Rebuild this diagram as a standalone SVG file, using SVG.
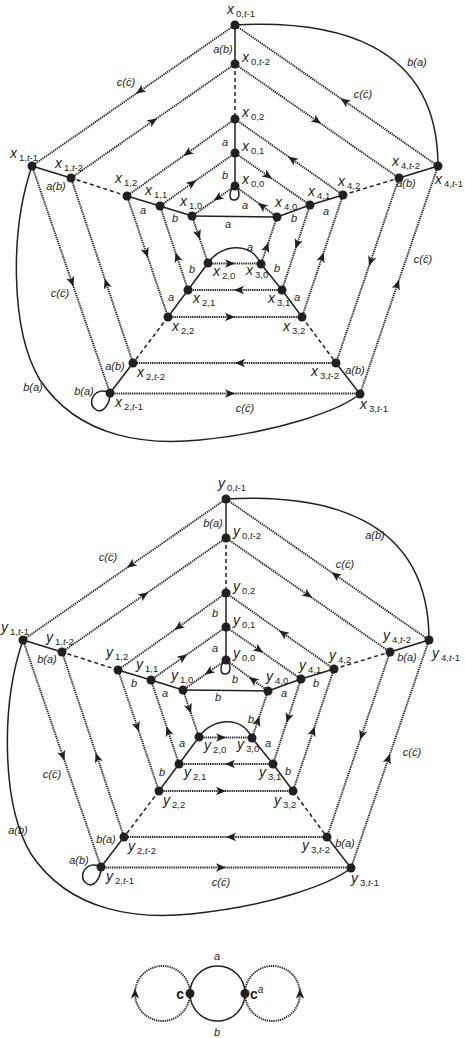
<svg xmlns="http://www.w3.org/2000/svg" width="465" height="1038" viewBox="0 0 465 1038">
<style>
.sol{fill:none;stroke:#231f20;stroke-width:1.5}
.dot{fill:none;stroke:#231f20;stroke-width:1.9;stroke-dasharray:1.3 0.9}
.dash{fill:none;stroke:#231f20;stroke-width:1.5;stroke-dasharray:4 3}
.arr{marker-mid:url(#ah)}
.nd{fill:#231f20}
.nl{font-family:"Liberation Sans",Arial,sans-serif;font-size:14px;font-style:italic;fill:#231f20}
.s{font-size:9.5px;font-style:normal}
.i{font-style:italic}
.el{font-family:"Liberation Sans",Arial,sans-serif;font-size:11px;font-style:italic;text-anchor:middle;fill:#231f20}
.cb{font-family:"Liberation Sans",Arial,sans-serif;font-size:14px;font-weight:bold;fill:#231f20}
</style>
<defs>
<marker id="ah" viewBox="-6 -5 12 10" markerWidth="12" markerHeight="10" markerUnits="userSpaceOnUse" orient="auto" refX="0" refY="0">
<path d="M-5,-4.2 L5,0 L-5,4.2 L-2.5,0 Z" fill="#231f20"/>
</marker>
</defs>

<!-- ===== Diagram X ===== -->
<g id="diagram-x">
<g id="connectors-x">
<path class="sol" d="M235,25 L235,64"/>
<path class="dash" d="M235,64 L235,119"/>
<path class="sol" d="M235,119 L235,153 L235,186"/>
<path class="sol" d="M235,186 C228,191 229,200 234,200 C240,200 241,191 235,186"/>
<path class="sol" d="M192,216 L277,217"/>
<path class="sol" d="M192,216 L160,206 L127,196"/>
<path class="dash" d="M127,196 L71,178"/>
<path class="sol" d="M71,178 L32,166"/>
<path class="sol" d="M277,217 L310,205 L343,195"/>
<path class="dash" d="M343,195 L399,178"/>
<path class="sol" d="M399,178 L438,166"/>
<path class="sol" d="M208,263 L188,290 L168,317"/>
<path class="dash" d="M168,317 L133,363"/>
<path class="sol" d="M133,363 L110,393"/>
<path class="sol" d="M110,393 C96,385 86,402 95,409 C102,415 110,405 110,393"/>
<path class="sol" d="M261,264 L282,290 L302,317"/>
<path class="dash" d="M302,317 L336,363"/>
<path class="sol" d="M336,363 L360,394"/>
<path class="sol" d="M208,263 C220,245 250,240 261,264"/>
<path class="sol" d="M235,25 C330,20 438,40 438,166"/>
<path class="sol" d="M32,166 C10,230 10,330 40,380 C80,440 150,445 200,440 C280,432 340,410 360,394"/>
<path class="dot arr" d="M235,25 L140,91 L32,166"/>
<path class="dot arr" d="M71,178 L153,121 L235,64"/>
<path class="dot arr" d="M235,119 L187.5,153 L127,196"/>
<path class="dot arr" d="M160,206 L192.2,183.2 L235,153"/>
<path class="dot arr" d="M235,186 L217.8,198 L192,216"/>
<path class="dot arr" d="M438,166 L344.6,101.1 L235,25"/>
<path class="dot arr" d="M235,64 L317,121 L399,178"/>
<path class="dot arr" d="M343,195 L292.2,159.3 L235,119"/>
<path class="dot arr" d="M235,153 L268,175.9 L310,205"/>
<path class="dot arr" d="M277,217 L261.9,205.8 L235,186"/>
<path class="dot arr" d="M192,216 L198.4,234.8 L208,263"/>
<path class="dot arr" d="M188,290 L177.1,257.2 L160,206"/>
<path class="dot arr" d="M127,196 L146.3,252.9 L168,317"/>
<path class="dot arr" d="M133,363 L106.3,283.5 L71,178"/>
<path class="dot arr" d="M32,166 L71.8,281.8 L110,393"/>
<path class="dot arr" d="M261,264 L266.8,247.1 L277,217"/>
<path class="dot arr" d="M310,205 L297.1,244.1 L282,290"/>
<path class="dot arr" d="M302,317 L322.1,257.2 L343,195"/>
<path class="dot arr" d="M399,178 L370.65,261.25 L336,363"/>
<path class="dot arr" d="M360,394 L397.4,284.6 L438,166"/>
<path class="dot arr" d="M208,263.5 L230,263.5 L261,263.5"/>
<path class="dot arr" d="M282,290 L239,290 L188,290"/>
<path class="dot arr" d="M168,317 L230,317 L302,317"/>
<path class="dot arr" d="M336,363 L240,363 L133,363"/>
<path class="dot arr" d="M110,393.5 L230,393.5 L360,393.5"/>
</g>
<g id="edge-labels-x">
<text class="el" x="223" y="53">a(b)</text>
<text class="el" x="126" y="86">c(c&#x304;)</text>
<text class="el" x="417" y="66">b(a)</text>
<text class="el" x="363" y="98">c(c&#x304;)</text>
<text class="el" x="225" y="146">a</text>
<text class="el" x="225" y="179">b</text>
<text class="el" x="245" y="209">a</text>
<text class="el" x="228" y="228">a</text>
<text class="el" x="143" y="214">a</text>
<text class="el" x="175" y="222">b</text>
<text class="el" x="56" y="190">a(b)</text>
<text class="el" x="326" y="215">a</text>
<text class="el" x="294" y="222">b</text>
<text class="el" x="406" y="187">a(b)</text>
<text class="el" x="250" y="251">a</text>
<text class="el" x="192" y="273">b</text>
<text class="el" x="171" y="301">a</text>
<text class="el" x="115" y="370">a(b)</text>
<text class="el" x="84" y="395">b(a)</text>
<text class="el" x="33" y="391">b(a)</text>
<text class="el" x="60" y="297">c(c&#x304;)</text>
<text class="el" x="277" y="272">b</text>
<text class="el" x="297" y="301">a</text>
<text class="el" x="355" y="374">a(b)</text>
<text class="el" x="423" y="263">c(c&#x304;)</text>
<text class="el" x="245" y="412">c(c&#x304;)</text>
</g>
<g id="x0_t-1"><circle class="nd" cx="235" cy="25" r="4.5"/><text class="nl" x="227" y="14">x<tspan class="s" dx="2" dy="3">0,</tspan><tspan class="s i">t</tspan><tspan class="s">-1</tspan></text></g>
<g id="x0_t-2"><circle class="nd" cx="235" cy="64" r="4.5"/><text class="nl" x="242" y="62">x<tspan class="s" dx="2" dy="3">0,</tspan><tspan class="s i">t</tspan><tspan class="s">-2</tspan></text></g>
<g id="x0_2"><circle class="nd" cx="235" cy="119" r="4.5"/><text class="nl" x="242" y="117">x<tspan class="s" dx="2" dy="3">0,2</tspan></text></g>
<g id="x0_1"><circle class="nd" cx="235" cy="153" r="4.5"/><text class="nl" x="242" y="151">x<tspan class="s" dx="2" dy="3">0,1</tspan></text></g>
<g id="x0_0"><circle class="nd" cx="235" cy="186" r="4.5"/><text class="nl" x="242" y="184">x<tspan class="s" dx="2" dy="3">0,0</tspan></text></g>
<g id="x4_0"><circle class="nd" cx="277" cy="217" r="4.5"/><text class="nl" x="275" y="207">x<tspan class="s" dx="2" dy="3">4,0</tspan></text></g>
<g id="x4_1"><circle class="nd" cx="310" cy="205" r="4.5"/><text class="nl" x="308" y="196">x<tspan class="s" dx="2" dy="3">4,1</tspan></text></g>
<g id="x4_2"><circle class="nd" cx="343" cy="195" r="4.5"/><text class="nl" x="338" y="186">x<tspan class="s" dx="2" dy="3">4,2</tspan></text></g>
<g id="x4_t-2"><circle class="nd" cx="399" cy="178" r="4.5"/><text class="nl" x="392" y="166">x<tspan class="s" dx="2" dy="3">4,</tspan><tspan class="s i">t</tspan><tspan class="s">-2</tspan></text></g>
<g id="x4_t-1"><circle class="nd" cx="438" cy="166" r="4.5"/><text class="nl" x="435" y="184">x<tspan class="s" dx="2" dy="3">4,</tspan><tspan class="s i">t</tspan><tspan class="s">-1</tspan></text></g>
<g id="x1_t-1"><circle class="nd" cx="32" cy="166" r="4.5"/><text class="nl" x="10" y="158">x<tspan class="s" dx="2" dy="3">1,</tspan><tspan class="s i">t</tspan><tspan class="s">-1</tspan></text></g>
<g id="x1_t-2"><circle class="nd" cx="71" cy="178" r="4.5"/><text class="nl" x="55" y="168">x<tspan class="s" dx="2" dy="3">1,</tspan><tspan class="s i">t</tspan><tspan class="s">-2</tspan></text></g>
<g id="x1_2"><circle class="nd" cx="127" cy="196" r="4.5"/><text class="nl" x="115" y="183">x<tspan class="s" dx="2" dy="3">1,2</tspan></text></g>
<g id="x1_1"><circle class="nd" cx="160" cy="206" r="4.5"/><text class="nl" x="145" y="195">x<tspan class="s" dx="2" dy="3">1,1</tspan></text></g>
<g id="x1_0"><circle class="nd" cx="192" cy="216" r="4.5"/><text class="nl" x="180" y="206">x<tspan class="s" dx="2" dy="3">1,0</tspan></text></g>
<g id="x2_0"><circle class="nd" cx="208" cy="263" r="4.5"/><text class="nl" x="213" y="276">x<tspan class="s" dx="2" dy="3">2,0</tspan></text></g>
<g id="x2_1"><circle class="nd" cx="188" cy="290" r="4.5"/><text class="nl" x="193" y="303">x<tspan class="s" dx="2" dy="3">2,1</tspan></text></g>
<g id="x2_2"><circle class="nd" cx="168" cy="317" r="4.5"/><text class="nl" x="172" y="331">x<tspan class="s" dx="2" dy="3">2,2</tspan></text></g>
<g id="x2_t-2"><circle class="nd" cx="133" cy="363" r="4.5"/><text class="nl" x="137" y="377">x<tspan class="s" dx="2" dy="3">2,</tspan><tspan class="s i">t</tspan><tspan class="s">-2</tspan></text></g>
<g id="x2_t-1"><circle class="nd" cx="110" cy="393" r="4.5"/><text class="nl" x="115" y="407">x<tspan class="s" dx="2" dy="3">2,</tspan><tspan class="s i">t</tspan><tspan class="s">-1</tspan></text></g>
<g id="x3_0"><circle class="nd" cx="261" cy="264" r="4.5"/><text class="nl" x="246" y="275">x<tspan class="s" dx="2" dy="3">3,0</tspan></text></g>
<g id="x3_1"><circle class="nd" cx="282" cy="290" r="4.5"/><text class="nl" x="268" y="303">x<tspan class="s" dx="2" dy="3">3,1</tspan></text></g>
<g id="x3_2"><circle class="nd" cx="302" cy="317" r="4.5"/><text class="nl" x="283" y="331">x<tspan class="s" dx="2" dy="3">3,2</tspan></text></g>
<g id="x3_t-2"><circle class="nd" cx="336" cy="363" r="4.5"/><text class="nl" x="311" y="376">x<tspan class="s" dx="2" dy="3">3,</tspan><tspan class="s i">t</tspan><tspan class="s">-2</tspan></text></g>
<g id="x3_t-1"><circle class="nd" cx="360" cy="394" r="4.5"/><text class="nl" x="360" y="409">x<tspan class="s" dx="2" dy="3">3,</tspan><tspan class="s i">t</tspan><tspan class="s">-1</tspan></text></g>
</g>

<!-- ===== Diagram Y ===== -->
<g id="diagram-y" transform="translate(-9,474)">
<g id="connectors-y">
<path class="sol" d="M235,25 L235,64"/>
<path class="dash" d="M235,64 L235,119"/>
<path class="sol" d="M235,119 L235,153 L235,186"/>
<path class="sol" d="M235,186 C228,191 229,200 234,200 C240,200 241,191 235,186"/>
<path class="sol" d="M192,216 L277,217"/>
<path class="sol" d="M192,216 L160,206 L127,196"/>
<path class="dash" d="M127,196 L71,178"/>
<path class="sol" d="M71,178 L32,166"/>
<path class="sol" d="M277,217 L310,205 L343,195"/>
<path class="dash" d="M343,195 L399,178"/>
<path class="sol" d="M399,178 L438,166"/>
<path class="sol" d="M208,263 L188,290 L168,317"/>
<path class="dash" d="M168,317 L133,363"/>
<path class="sol" d="M133,363 L110,393"/>
<path class="sol" d="M110,393 C96,385 86,402 95,409 C102,415 110,405 110,393"/>
<path class="sol" d="M261,264 L282,290 L302,317"/>
<path class="dash" d="M302,317 L336,363"/>
<path class="sol" d="M336,363 L360,394"/>
<path class="sol" d="M208,263 C220,245 250,240 261,264"/>
<path class="sol" d="M235,25 C330,20 438,40 438,166"/>
<path class="sol" d="M32,166 C10,230 10,330 40,380 C80,440 150,445 200,440 C280,432 340,410 360,394"/>
<path class="dot arr" d="M235,25 L140,91 L32,166"/>
<path class="dot arr" d="M71,178 L153,121 L235,64"/>
<path class="dot arr" d="M235,119 L187.5,153 L127,196"/>
<path class="dot arr" d="M160,206 L192.2,183.2 L235,153"/>
<path class="dot arr" d="M235,186 L217.8,198 L192,216"/>
<path class="dot arr" d="M438,166 L344.6,101.1 L235,25"/>
<path class="dot arr" d="M235,64 L317,121 L399,178"/>
<path class="dot arr" d="M343,195 L292.2,159.3 L235,119"/>
<path class="dot arr" d="M235,153 L268,175.9 L310,205"/>
<path class="dot arr" d="M277,217 L261.9,205.8 L235,186"/>
<path class="dot arr" d="M192,216 L198.4,234.8 L208,263"/>
<path class="dot arr" d="M188,290 L177.1,257.2 L160,206"/>
<path class="dot arr" d="M127,196 L146.3,252.9 L168,317"/>
<path class="dot arr" d="M133,363 L106.3,283.5 L71,178"/>
<path class="dot arr" d="M32,166 L71.8,281.8 L110,393"/>
<path class="dot arr" d="M261,264 L266.8,247.1 L277,217"/>
<path class="dot arr" d="M310,205 L297.1,244.1 L282,290"/>
<path class="dot arr" d="M302,317 L322.1,257.2 L343,195"/>
<path class="dot arr" d="M399,178 L370.65,261.25 L336,363"/>
<path class="dot arr" d="M360,394 L397.4,284.6 L438,166"/>
<path class="dot arr" d="M208,263.5 L230,263.5 L261,263.5"/>
<path class="dot arr" d="M282,290 L239,290 L188,290"/>
<path class="dot arr" d="M168,317 L230,317 L302,317"/>
<path class="dot arr" d="M336,363 L240,363 L133,363"/>
<path class="dot arr" d="M110,393.5 L230,393.5 L360,393.5"/>
</g>
<g id="edge-labels-y">
<text class="el" x="222" y="53">b(a)</text>
<text class="el" x="117" y="87">c(c&#x304;)</text>
<text class="el" x="384" y="65">a(b)</text>
<text class="el" x="354" y="94">c(c&#x304;)</text>
<text class="el" x="224" y="143">b</text>
<text class="el" x="224" y="178">a</text>
<text class="el" x="244" y="209">b</text>
<text class="el" x="227" y="227">b</text>
<text class="el" x="143" y="213">b</text>
<text class="el" x="174" y="223">a</text>
<text class="el" x="56" y="189">b(a)</text>
<text class="el" x="293" y="223">a</text>
<text class="el" x="325" y="213">b</text>
<text class="el" x="416" y="187">b(a)</text>
<text class="el" x="260" y="249">b</text>
<text class="el" x="191" y="273">a</text>
<text class="el" x="171" y="302">b</text>
<text class="el" x="115" y="369">b(a)</text>
<text class="el" x="88" y="390">a(b)</text>
<text class="el" x="27" y="360">a(b)</text>
<text class="el" x="61" y="304">c(c&#x304;)</text>
<text class="el" x="277" y="273">a</text>
<text class="el" x="297" y="301">b</text>
<text class="el" x="354" y="373">b(a)</text>
<text class="el" x="421" y="282">c(c&#x304;)</text>
<text class="el" x="230" y="412">c(c&#x304;)</text>
</g>
<g id="y0_t-1"><circle class="nd" cx="235" cy="25" r="4.5"/><text class="nl" x="227" y="14">y<tspan class="s" dx="2" dy="3">0,</tspan><tspan class="s i">t</tspan><tspan class="s">-1</tspan></text></g>
<g id="y0_t-2"><circle class="nd" cx="235" cy="64" r="4.5"/><text class="nl" x="242" y="62">y<tspan class="s" dx="2" dy="3">0,</tspan><tspan class="s i">t</tspan><tspan class="s">-2</tspan></text></g>
<g id="y0_2"><circle class="nd" cx="235" cy="119" r="4.5"/><text class="nl" x="242" y="117">y<tspan class="s" dx="2" dy="3">0,2</tspan></text></g>
<g id="y0_1"><circle class="nd" cx="235" cy="153" r="4.5"/><text class="nl" x="242" y="151">y<tspan class="s" dx="2" dy="3">0,1</tspan></text></g>
<g id="y0_0"><circle class="nd" cx="235" cy="186" r="4.5"/><text class="nl" x="242" y="184">y<tspan class="s" dx="2" dy="3">0,0</tspan></text></g>
<g id="y4_0"><circle class="nd" cx="277" cy="217" r="4.5"/><text class="nl" x="275" y="207">y<tspan class="s" dx="2" dy="3">4,0</tspan></text></g>
<g id="y4_1"><circle class="nd" cx="310" cy="205" r="4.5"/><text class="nl" x="308" y="196">y<tspan class="s" dx="2" dy="3">4,1</tspan></text></g>
<g id="y4_2"><circle class="nd" cx="343" cy="195" r="4.5"/><text class="nl" x="338" y="186">y<tspan class="s" dx="2" dy="3">4,2</tspan></text></g>
<g id="y4_t-2"><circle class="nd" cx="399" cy="178" r="4.5"/><text class="nl" x="392" y="166">y<tspan class="s" dx="2" dy="3">4,</tspan><tspan class="s i">t</tspan><tspan class="s">-2</tspan></text></g>
<g id="y4_t-1"><circle class="nd" cx="438" cy="166" r="4.5"/><text class="nl" x="441" y="184">y<tspan class="s" dx="2" dy="3">4,</tspan><tspan class="s i">t</tspan><tspan class="s">-1</tspan></text></g>
<g id="y1_t-1"><circle class="nd" cx="32" cy="166" r="4.5"/><text class="nl" x="10" y="158">y<tspan class="s" dx="2" dy="3">1,</tspan><tspan class="s i">t</tspan><tspan class="s">-1</tspan></text></g>
<g id="y1_t-2"><circle class="nd" cx="71" cy="178" r="4.5"/><text class="nl" x="55" y="168">y<tspan class="s" dx="2" dy="3">1,</tspan><tspan class="s i">t</tspan><tspan class="s">-2</tspan></text></g>
<g id="y1_2"><circle class="nd" cx="127" cy="196" r="4.5"/><text class="nl" x="115" y="183">y<tspan class="s" dx="2" dy="3">1,2</tspan></text></g>
<g id="y1_1"><circle class="nd" cx="160" cy="206" r="4.5"/><text class="nl" x="145" y="195">y<tspan class="s" dx="2" dy="3">1,1</tspan></text></g>
<g id="y1_0"><circle class="nd" cx="192" cy="216" r="4.5"/><text class="nl" x="180" y="206">y<tspan class="s" dx="2" dy="3">1,0</tspan></text></g>
<g id="y2_0"><circle class="nd" cx="208" cy="263" r="4.5"/><text class="nl" x="213" y="276">y<tspan class="s" dx="2" dy="3">2,0</tspan></text></g>
<g id="y2_1"><circle class="nd" cx="188" cy="290" r="4.5"/><text class="nl" x="193" y="303">y<tspan class="s" dx="2" dy="3">2,1</tspan></text></g>
<g id="y2_2"><circle class="nd" cx="168" cy="317" r="4.5"/><text class="nl" x="172" y="331">y<tspan class="s" dx="2" dy="3">2,2</tspan></text></g>
<g id="y2_t-2"><circle class="nd" cx="133" cy="363" r="4.5"/><text class="nl" x="137" y="377">y<tspan class="s" dx="2" dy="3">2,</tspan><tspan class="s i">t</tspan><tspan class="s">-2</tspan></text></g>
<g id="y2_t-1"><circle class="nd" cx="110" cy="393" r="4.5"/><text class="nl" x="115" y="407">y<tspan class="s" dx="2" dy="3">2,</tspan><tspan class="s i">t</tspan><tspan class="s">-1</tspan></text></g>
<g id="y3_0"><circle class="nd" cx="261" cy="264" r="4.5"/><text class="nl" x="246" y="275">y<tspan class="s" dx="2" dy="3">3,0</tspan></text></g>
<g id="y3_1"><circle class="nd" cx="282" cy="290" r="4.5"/><text class="nl" x="268" y="303">y<tspan class="s" dx="2" dy="3">3,1</tspan></text></g>
<g id="y3_2"><circle class="nd" cx="302" cy="317" r="4.5"/><text class="nl" x="283" y="331">y<tspan class="s" dx="2" dy="3">3,2</tspan></text></g>
<g id="y3_t-2"><circle class="nd" cx="336" cy="363" r="4.5"/><text class="nl" x="311" y="376">y<tspan class="s" dx="2" dy="3">3,</tspan><tspan class="s i">t</tspan><tspan class="s">-2</tspan></text></g>
<g id="y3_t-1"><circle class="nd" cx="360" cy="394" r="4.5"/><text class="nl" x="360" y="409">y<tspan class="s" dx="2" dy="3">3,</tspan><tspan class="s i">t</tspan><tspan class="s">-1</tspan></text></g>
</g>

<!-- ===== Small graph ===== -->
<g id="diagram-c">
<g id="connectors-c">
<circle class="sol" cx="217.5" cy="993.5" r="27.5"/>
<path class="dot arr" d="M190,993.5 A27.5,27.5 0 0 1 135,993.5 A27.5,27.5 0 0 1 190,993.5"/>
<path class="dot arr" d="M245,993.5 A27.5,27.5 0 0 0 300,993.5 A27.5,27.5 0 0 0 245,993.5"/>
</g>
<text class="el" x="217" y="960">a</text>
<text class="el" x="217" y="1036">b</text>
<g id="c"><circle class="nd" cx="190" cy="993.5" r="4.5"/><text class="cb" x="184" y="998.5" text-anchor="end">c</text></g>
<g id="c_a"><circle class="nd" cx="245" cy="993.5" r="4.5"/><text class="cb" x="250" y="998.5">c<tspan font-size="10" font-weight="normal" font-style="italic" dy="-6">a</tspan></text></g>
</g>
</svg>
